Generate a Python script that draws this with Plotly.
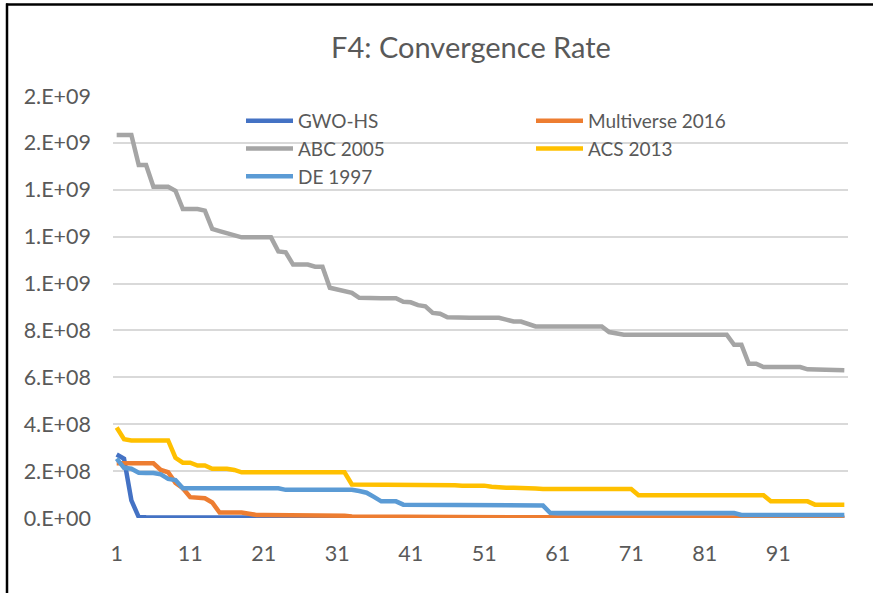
import plotly.graph_objects as go

categories = list(range(1, 101))
x_tick_labels = ["1", "11", "21", "31", "41", "51", "61", "71", "81", "91"]
y_tick_values = [0, 2e8, 4e8, 6e8, 8e8, 1.0e9, 1.2e9, 1.4e9, 1.6e9, 1.8e9]
y_tick_labels = ["0.E+00", "2.E+08", "4.E+08", "6.E+08", "8.E+08",
                 "1.E+09", "1.E+09", "1.E+09", "2.E+09", "2.E+09"]

# values in units of 1e6
gwo_hs = [271, 253, 75, 4, 3, 3, 3, 3, 3, 3,
          2, 2, 2, 2, 2, 2, 2, 2, 2, 2,
          1, 1, 1, 1, 1, 1, 1, 1, 1, 1,
          1, 1, 1, 1, 1, 1, 1, 1, 1, 1,
          0.5, 0.5, 0.5, 0.5, 0.5, 0.5, 0.5, 0.5, 0.5, 0.5,
          0.5, 0.5, 0.5, 0.5, 0.5, 0.5, 0.5, 0.5, 0.5, 0.5,
          0.5, 0.5, 0.5, 0.5, 0.5, 0.5, 0.5, 0.5, 0.5, 0.5,
          0.5, 0.5, 0.5, 0.5, 0.5, 0.5, 0.5, 0.5, 0.5, 0.5,
          0.5, 0.5, 0.5, 0.5, 0.5, 0.5, 0.5, 0.5, 0.5, 0.5,
          0.5, 0.5, 0.5, 0.5, 0.5, 0.5, 0.5, 0.5, 0.5, 0.5]

multiverse_2016 = [233, 233, 233, 233, 233, 233, 205, 195, 150, 127,
                   89, 87, 84, 66, 23, 23, 23, 23, 18, 13,
                   13, 13, 13, 13, 13, 13, 13, 13, 13, 13,
                   13, 10, 6, 6, 6, 6, 6, 6, 6, 6,
                   3, 3, 3, 3, 3, 3, 3, 3, 3, 3,
                   3, 3, 3, 3, 3, 3, 3, 3, 3, 3,
                   1, 1, 1, 1, 1, 1, 1, 1, 1, 1,
                   1, 1, 1, 1, 1, 1, 1, 1, 1, 1,
                   1, 1, 1, 1, 1, 1, 1, 1, 1, 1,
                   1, 1, 1, 1, 1, 1, 1, 1, 1, 1]

abc_2005 = [1634, 1634, 1634, 1506, 1506, 1413, 1413, 1413, 1396, 1318,
            1318, 1318, 1311, 1233, 1224, 1214, 1205, 1197, 1197, 1197,
            1197, 1197, 1137, 1133, 1081, 1081, 1081, 1072, 1072, 982,
            975, 968, 960, 939, 937, 937, 937, 937, 937, 922,
            920, 908, 903, 875, 871, 856, 854, 854, 854, 854,
            854, 854, 854, 846, 838, 838, 828, 817, 817, 817,
            817, 817, 817, 817, 817, 817, 817, 793, 788, 782,
            782, 782, 782, 782, 782, 782, 782, 782, 782, 782,
            782, 782, 782, 782, 739, 739, 658, 658, 644, 644,
            644, 644, 644, 644, 634, 634, 634, 634, 634, 630]

acs_2013 = [386, 336, 331, 331, 331, 331, 331, 331, 257, 236,
            236, 224, 224, 210, 210, 210, 205, 195, 195, 195,
            195, 195, 195, 195, 195, 195, 195, 195, 195, 195,
            195, 195, 143, 143, 143, 143, 143, 143, 143, 143,
            143, 143, 143, 143, 143, 143, 140, 138, 138, 138,
            138, 133, 129, 129, 129, 129, 129, 126, 124, 124,
            124, 124, 124, 124, 124, 124, 124, 124, 124, 124,
            124, 97, 97, 97, 97, 97, 97, 97, 97, 97,
            97, 97, 97, 97, 97, 97, 97, 97, 97, 71,
            71, 71, 71, 71, 71, 57, 57, 57, 57, 57]

de_1997 = [253, 214, 210, 193, 192, 192, 186, 167, 162, 127,
           127, 127, 127, 127, 127, 127, 127, 127, 127, 127,
           127, 127, 127, 120, 120, 120, 120, 120, 120, 120,
           120, 120, 120, 115, 108, 90, 71, 71, 71, 57,
           57, 57, 57, 57, 57, 57, 57, 53, 53, 53,
           53, 53, 53, 53, 53, 53, 53, 53, 53, 21,
           21, 21, 21, 21, 21, 21, 21, 21, 21, 21,
           21, 21, 21, 21, 21, 21, 21, 21, 21, 21,
           21, 21, 21, 21, 21, 13, 13, 13, 13, 13,
           13, 13, 13, 13, 13, 13, 13, 13, 13, 13]

series = [
    ("GWO-HS", gwo_hs, "#4472C4"),
    ("Multiverse 2016", multiverse_2016, "#ED7D31"),
    ("ABC 2005", abc_2005, "#A5A5A5"),
    ("ACS 2013", acs_2013, "#FFC000"),
    ("DE 1997", de_1997, "#5B9BD5"),
]

FONT = "Lato, 'Open Sans', sans-serif"
TEXT = "#595959"

fig = go.Figure()
for name, vals, color in series:
    fig.add_trace(go.Scatter(
        x=categories, y=[v * 1e6 for v in vals], name=name, mode="lines",
        line=dict(color=color, width=4.5),
    ))

W, H = 873, 593
L, R, T, B = 113, 25, 96, 75
pw, ph = W - L - R, H - T - B

def px_x(x):
    return (x - L) / pw

def px_y(y):
    return (H - B - y) / ph

fig.update_layout(
    width=W, height=H,
    margin=dict(l=L, r=R, t=T, b=B),
    paper_bgcolor="white", plot_bgcolor="white",
    font=dict(family=FONT, color=TEXT, size=21),
    title=dict(text="F4: Convergence Rate", font=dict(size=29, color=TEXT, family=FONT),
               x=px_x(471), xref="paper", xanchor="center",
               y=1 - 48 / H, yref="container", yanchor="middle"),
    showlegend=True,
    legend=dict(orientation="h", x=px_x(241), xanchor="left",
                y=px_y(102), yanchor="top",
                itemwidth=47,
                entrywidth=228, entrywidthmode="pixels",
                font=dict(size=19, color=TEXT, family=FONT),
                bgcolor="rgba(0,0,0,0)", tracegroupgap=0),
    xaxis=dict(range=[0.5, 100.5], tickmode="array",
               tickvals=[int(t) for t in x_tick_labels], ticktext=x_tick_labels,
               showgrid=False, zeroline=False, showline=False,
               ticks="", ticklabelstandoff=20,
               tickfont=dict(size=21.5, color=TEXT, family=FONT)),
    yaxis=dict(range=[0, 1.8e9], tickmode="array",
               tickvals=y_tick_values, ticktext=y_tick_labels,
               showgrid=True, gridcolor="#D9D9D9", gridwidth=1.5,
               zeroline=False, showline=False, ticks="", ticklabelstandoff=21,
               tickfont=dict(size=21.5, color=TEXT, family=FONT)),
    shapes=[
        dict(type="line", xref="paper", yref="paper",
             x0=px_x(6), x1=px_x(873), y0=px_y(4.5), y1=px_y(4.5),
             line=dict(color="black", width=2.5)),
        dict(type="line", xref="paper", yref="paper",
             x0=px_x(7), x1=px_x(7), y0=px_y(3.5), y1=px_y(593),
             line=dict(color="black", width=2.5)),
    ],
)

fig.write_html("out.html", config={"displayModeBar": False},
               post_script="document.body.style.margin='0px';document.body.style.overflow='hidden';")
